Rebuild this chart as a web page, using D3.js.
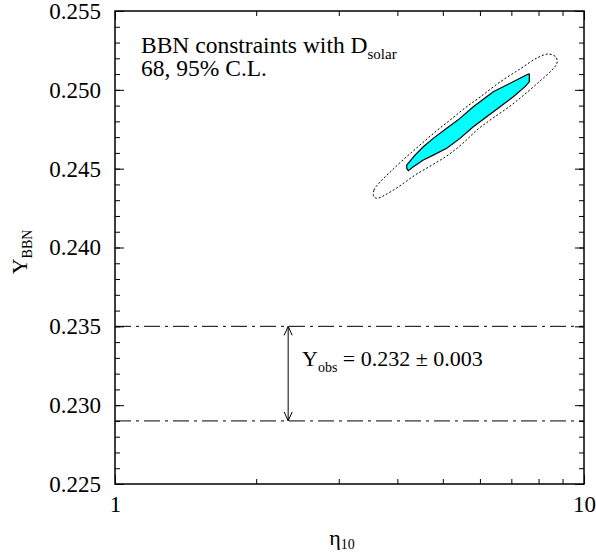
<!DOCTYPE html>
<html>
<head>
<meta charset="utf-8">
<script src="https://cdn.jsdelivr.net/npm/d3@7"></script>
<style>
  body { margin: 0; background: #fff; }
  svg text { font-family: "Liberation Serif", "Times New Roman", Times, serif !important; fill: #000; }
</style>
</head>
<body>
<div id="chart"></div>
<script>
// axis ticks
const xMajor = [1, 10];
const xMinor = [2, 3, 4, 5, 6, 7, 8, 9];
const yMajor = [0.225, 0.230, 0.235, 0.240, 0.245, 0.250, 0.255];
const yMinor = d3.range(0.225, 0.2551, 0.001);

// observed band
const yObsLines = [0.235, 0.229];
const arrowEta = 2.34;

// 68% contour (eta10, Y)
const innerEta = [4.188, 4.362, 4.543, 4.771, 5.096, 5.440, 5.807, 6.002, 6.407, 6.842, 7.303, 7.607, 7.645, 7.645,
                  7.485, 7.068, 6.622, 6.202, 5.807, 5.440, 5.096, 4.771, 4.543, 4.325, 4.221, 4.188];
const innerY   = [0.24523, 0.24586, 0.24639, 0.24692, 0.24756, 0.24819, 0.24893, 0.24925, 0.24988, 0.25031, 0.25073, 0.25100, 0.25100, 0.25051,
                  0.25020, 0.24956, 0.24893, 0.24829, 0.24766, 0.24692, 0.24629, 0.24586, 0.24555, 0.24512, 0.24487, 0.24502];

// 95% contour (eta10, Y)
const outerEta = [3.566, 3.566, 3.673, 3.859, 4.153, 4.471, 4.812, 5.180, 5.576, 6.002, 6.622, 7.303, 7.940, 8.381, 8.716, 8.759, 8.546, 8.058, 7.485, 6.954, 6.397, 5.943, 5.521, 5.129, 4.742, 4.362, 4.012, 3.764, 3.637];
const outerY   = [0.24320, 0.24364, 0.24415, 0.24478, 0.24567, 0.24650, 0.24732, 0.24808, 0.24885, 0.24954, 0.25050, 0.25132, 0.25202, 0.25227, 0.25208, 0.25170, 0.25126, 0.25056, 0.24973, 0.24897, 0.24821, 0.24751, 0.24662, 0.24586, 0.24523, 0.24459, 0.24383, 0.24333, 0.24313];

const width = 596, height = 552;
const mLeft = 115, mRight = 584, mTop = 11, mBottom = 484;
const serif = '"Liberation Serif", "Times New Roman", Times, serif';

const svg = d3.select("#chart").append("svg")
    .attr("width", width)
    .attr("height", height)
    .style("font-family", serif);

const x = d3.scaleLog().domain([1, 10]).range([mLeft, mRight]);
const y = d3.scaleLinear().domain([0.225, 0.255]).range([mBottom, mTop]);

// contours
const outer = outerEta.map((e, i) => [e, outerY[i]]);
const inner = innerEta.map((e, i) => [e, innerY[i]]);

svg.append("path")
    .attr("d", d3.line().x(d => x(d[0])).y(d => y(d[1])).curve(d3.curveCatmullRomClosed)(outer))
    .attr("fill", "none")
    .attr("stroke", "#000")
    .attr("stroke-width", 1)
    .attr("stroke-dasharray", "2,2");

svg.append("path")
    .attr("d", d3.line().x(d => x(d[0])).y(d => y(d[1])).curve(d3.curveLinearClosed)(inner))
    .attr("fill", "#00ffff")
    .attr("stroke", "#000")
    .attr("stroke-width", 1.2);

// dash-dot lines
svg.selectAll(".obs")
    .data(yObsLines)
    .enter()
    .append("line")
    .attr("class", "obs")
    .attr("x1", mLeft).attr("x2", mRight)
    .attr("y1", d => y(d)).attr("y2", d => y(d))
    .attr("stroke", "#000")
    .attr("stroke-width", 1)
    .attr("stroke-dasharray", "16,5,3,5");

// double arrow
const ax = x(arrowEta);
const y1 = y(yObsLines[0]), y2 = y(yObsLines[1]);
svg.append("line")
    .attr("x1", ax).attr("x2", ax)
    .attr("y1", y1).attr("y2", y2)
    .attr("stroke", "#000").attr("stroke-width", 1);
svg.append("path")
    .attr("d", `M${ax - 4},${y1 + 9}L${ax},${y1}L${ax + 4},${y1 + 9}M${ax - 4},${y2 - 9}L${ax},${y2}L${ax + 4},${y2 - 9}`)
    .attr("fill", "none").attr("stroke", "#000").attr("stroke-width", 1);

// axes with inward ticks
function noDomain(g) {
    g.select(".domain").remove();
    g.attr("font-family", serif).attr("font-size", 23);
    g.selectAll("text").style("font-family", serif);
    g.selectAll("line").attr("stroke-width", 1);
}

svg.append("g").attr("transform", `translate(0,${mBottom})`)
    .call(d3.axisBottom(x).tickValues(xMajor).tickSize(-9).tickPadding(12).tickFormat(d3.format("d")))
    .call(noDomain);
svg.append("g").attr("transform", `translate(0,${mBottom})`)
    .call(d3.axisBottom(x).tickValues(xMinor).tickSize(-5).tickFormat(""))
    .call(noDomain);
svg.append("g").attr("transform", `translate(0,${mTop})`)
    .call(d3.axisTop(x).tickValues(xMajor).tickSize(-9).tickFormat(""))
    .call(noDomain);
svg.append("g").attr("transform", `translate(0,${mTop})`)
    .call(d3.axisTop(x).tickValues(xMinor).tickSize(-5).tickFormat(""))
    .call(noDomain);

svg.append("g").attr("transform", `translate(${mLeft},0)`)
    .call(d3.axisLeft(y).tickValues(yMajor).tickSize(-9).tickPadding(14).tickFormat(d3.format(".3f")))
    .call(noDomain);
svg.append("g").attr("transform", `translate(${mLeft},0)`)
    .call(d3.axisLeft(y).tickValues(yMinor).tickSize(-5).tickFormat(""))
    .call(noDomain);
svg.append("g").attr("transform", `translate(${mRight},0)`)
    .call(d3.axisRight(y).tickValues(yMajor).tickSize(-9).tickFormat(""))
    .call(noDomain);
svg.append("g").attr("transform", `translate(${mRight},0)`)
    .call(d3.axisRight(y).tickValues(yMinor).tickSize(-5).tickFormat(""))
    .call(noDomain);

// frame
svg.append("rect")
    .attr("x", mLeft).attr("y", mTop)
    .attr("width", mRight - mLeft).attr("height", mBottom - mTop)
    .attr("fill", "none").attr("stroke", "#000").attr("stroke-width", 1.5);

// labels (two-line note in one text element)
const t1 = svg.append("text").attr("x", 141).attr("y", 53).attr("font-size", 23.5);
t1.append("tspan").text("BBN constraints with D");
t1.append("tspan").attr("dy", 6).attr("font-size", 15).text("solar");
t1.append("tspan").attr("x", 141).attr("dy", 17).text("68, 95% C.L.");

const t2 = svg.append("text").attr("x", 302).attr("y", 366).attr("font-size", 22);
t2.append("tspan").text("Y");
t2.append("tspan").attr("dy", 6).attr("font-size", 14).text("obs");
t2.append("tspan").attr("dy", -6).text(" = 0.232 \u00b1 0.003");

const xl = svg.append("text").attr("x", 342).attr("y", 545).attr("font-size", 22).attr("text-anchor", "middle");
xl.append("tspan").text("\u03b7");
xl.append("tspan").attr("dy", 4).attr("font-size", 14).text("10");

const yl = svg.append("text").attr("transform", "translate(27,252) rotate(-90)").attr("font-size", 22).attr("text-anchor", "middle");
yl.append("tspan").text("Y");
yl.append("tspan").attr("dy", 5).attr("font-size", 14).text("BBN");
</script>
</body>
</html>
